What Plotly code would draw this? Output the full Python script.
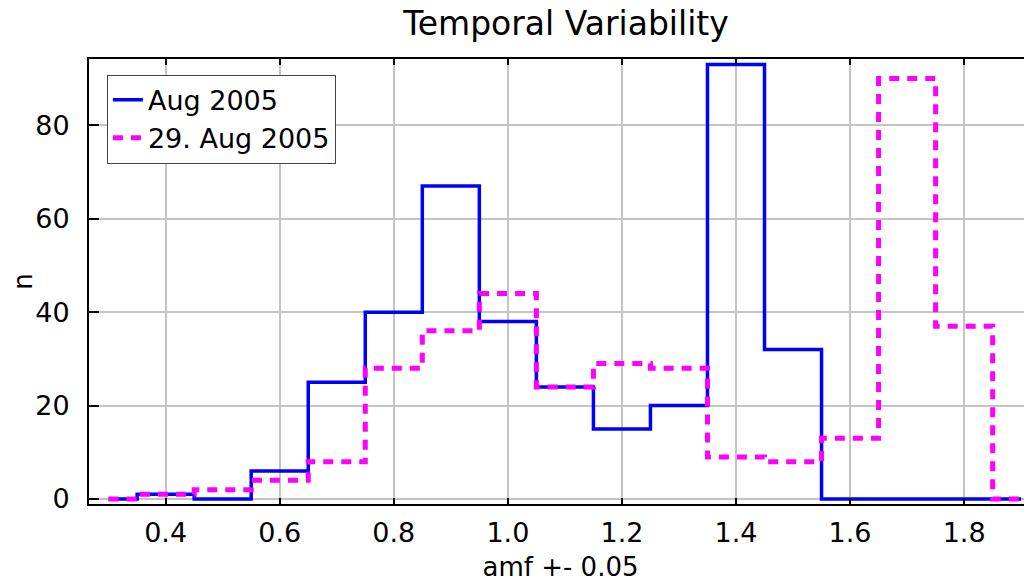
import plotly.graph_objects as go

# bin centres (amf +- 0.05)
amf_bins = [0.3, 0.4, 0.5, 0.6, 0.7, 0.8, 0.9, 1.0, 1.1, 1.2, 1.3, 1.4, 1.5, 1.6, 1.7, 1.8, 1.9]
aug_2005 = [0, 1, 0, 6, 25, 40, 67, 38, 24, 15, 20, 93, 32, 0, 0, 0, 0]
aug29_2005 = [0, 1, 2, 4, 8, 28, 36, 44, 24, 29, 28, 9, 8, 13, 90, 37, 0]

x_ticks = [0.4, 0.6, 0.8, 1.0, 1.2, 1.4, 1.6, 1.8]
x_tick_labels = ["0.4", "0.6", "0.8", "1.0", "1.2", "1.4", "1.6", "1.8"]
y_ticks = [0, 20, 40, 60, 80]

FONT = "DejaVu Sans"
W, H = 1024, 574  # page body adds an 8px offset

fig = go.Figure()
fig.add_trace(go.Scatter(
    x=amf_bins, y=aug_2005, name="Aug 2005", mode="lines",
    line=dict(color="#0000ff", width=3.5, shape="hvh"),
))
fig.add_trace(go.Scatter(
    x=amf_bins, y=aug29_2005, name="29. Aug 2005", mode="lines",
    line=dict(color="#ff00ff", width=5, shape="hvh", dash="10px,8px"),
))

fig.update_layout(
    width=W, height=H,
    paper_bgcolor="white", plot_bgcolor="white",
    margin=dict(l=81, r=0, t=51, b=78, autoexpand=False),
    font=dict(family=FONT, size=27, color="black"),
    title=dict(text="Temporal Variability", x=558 / W, xanchor="center",
               y=1 - 15 / H, yanchor="middle", xref="container", yref="container",
               font=dict(family=FONT, size=33, color="black")),
    showlegend=True,
    legend=dict(x=0.019, y=0.965, xanchor="left", yanchor="top",
                bgcolor="white", bordercolor="#444444", borderwidth=1,
                font=dict(family=FONT, size=27, color="black"),
                tracegroupgap=0, itemwidth=30),
)
fig.update_xaxes(
    range=[0.2656, 1.919], tickvals=x_ticks, ticktext=x_tick_labels,
    showgrid=True, gridcolor="#c4c4c4", gridwidth=1.5,
    showline=True, linecolor="black", linewidth=2, mirror="ticks",
    ticks="inside", ticklen=6, tickwidth=2, tickcolor="black",
    ticklabelstandoff=4, zeroline=False, automargin=False,
    title=dict(text="amf +- 0.05", standoff=24, font=dict(family=FONT, size=26)),
)
fig.update_yaxes(
    range=[-1.07, 94.2], tickvals=y_ticks,
    showgrid=True, gridcolor="#c4c4c4", gridwidth=1.5,
    showline=True, linecolor="black", linewidth=2,
    ticks="inside", ticklen=10, tickwidth=2, tickcolor="black",
    ticklabelstandoff=12, zeroline=False, automargin=False,
    title=dict(text="n", standoff=16, font=dict(family=FONT, size=26)),
)

fig.write_html("out.html")
